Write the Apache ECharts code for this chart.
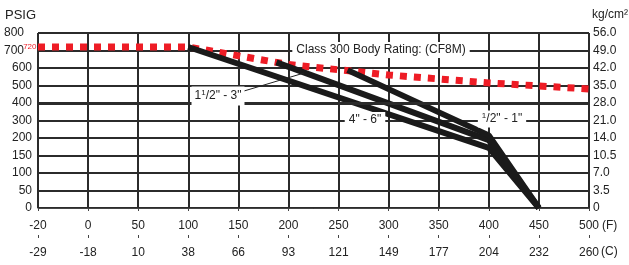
<!DOCTYPE html>
<html><head><meta charset="utf-8">
<script src="https://cdn.jsdelivr.net/npm/echarts@6/dist/echarts.min.js"></script>
<style>html,body{margin:0;padding:0;background:#fff}#c{width:629px;height:265px}</style>
</head><body><div id="c"></div>
<script>
// Axis tick labels (axes are non-uniform: each tick is one equal step)
const fTicks = [-20, 0, 50, 100, 150, 200, 250, 300, 350, 400, 450, 500];
const fLabels = ['-20','0','50','100','150','200','250','300','350','400','450','500'];
const cLabels = ['-29','-18','10','38','66','93','121','149','177','204','232','260'];
const psiTicks = [0, 50, 100, 150, 200, 300, 400, 500, 600, 700, 800];
const psiLabels = ['0','50','100','150','200','300','400','500','600','700','800'];
const kgLabels = ['0','3.5','7.0','10.5','14.0','21.0','28.0','35.0','42.0','49.0','56.0'];

// Series (temperature °F, pressure PSIG)
const bodyF   = [-20, 100, 200, 300, 400, 500];
const bodyPsi = [720, 720, 620, 560, 515, 480];
const halfF   = [259, 400, 450];
const halfPsi = [588, 215, 0];
const midF    = [188, 400, 450];
const midPsi  = [632, 194, 0];
const bigF    = [100, 400, 450];
const bigPsi  = [720, 172, 0];

function toIdx(v, ticks){
  for (let i = 0; i < ticks.length - 1; i++){
    if (v <= ticks[i+1]) return i + (v - ticks[i]) / (ticks[i+1] - ticks[i]);
  }
  return ticks.length - 1;
}
function pts(fs, ps){ return fs.map((f, i) => [toIdx(f, fTicks), toIdx(ps[i], psiTicks)]); }

const FONT = '"Liberation Sans",Arial,sans-serif';
const FS = 12;
const GRID = '#2b2b2b';
const TXT = '#222';
const chart = echarts.init(document.getElementById('c'), null, {renderer:'canvas'});

const bodyData = pts(bodyF, bodyPsi);

const blackLine = (data) => ({
  type: 'line', data, showSymbol: false, symbol: 'none', z: 4,
  lineStyle: {color: '#1a1a1a', width: 6, join: 'bevel', cap: 'butt'}
});

chart.setOption({
  animation: false,
  grid: {left: 38, right: 40, top: 33, bottom: 57},
  xAxis: [
    {type: 'value', min: 0, max: 11, interval: 1, position: 'bottom',
     axisLine: {show: false}, axisTick: {show: false},
     splitLine: {show: true, lineStyle: {color: GRID, width: 2}},
     axisLabel: {formatter: v => fLabels[v], margin: 12, fontSize: FS, color: TXT, fontFamily: FONT}},
    {type: 'value', min: 0, max: 11, interval: 1, position: 'bottom', offset: 30,
     axisLine: {show: true, lineStyle: {color: '#444', width: 1}},
     axisTick: {show: true, length: 3, lineStyle: {color: '#444'}},
     splitLine: {show: false},
     axisLabel: {formatter: v => cLabels[v], margin: 9, fontSize: FS, color: TXT, fontFamily: FONT}},
    {type: 'value', min: 0, max: 11, interval: 1, position: 'bottom', offset: 30,
     axisLine: {show: false}, axisTick: {show: true, inside: true, length: 3, lineStyle: {color: '#444'}},
     splitLine: {show: false}, axisLabel: {show: false}}
  ],
  yAxis: [
    {type: 'value', min: 0, max: 10, interval: 1, position: 'left',
     axisLine: {show: false}, axisTick: {show: false},
     splitLine: {show: true, lineStyle: {color: GRID, width: 2}},
     axisLabel: {margin: 6, fontSize: FS, color: TXT, fontFamily: FONT,
       formatter: v => v >= 9 ? '{p|' + psiLabels[v] + '}' : psiLabels[v],
       rich: {p: {fontSize: FS, fontFamily: FONT, color: TXT, padding: [0, 8, 0, 0]}}}},
    {type: 'value', min: 0, max: 10, interval: 1, position: 'right',
     axisLine: {show: false}, axisTick: {show: false}, splitLine: {show: false},
     axisLabel: {margin: 4, fontSize: FS, color: TXT, fontFamily: FONT, formatter: v => kgLabels[v]}}
  ],
  series: [
    {type: 'line', data: bodyData, showSymbol: false, symbol: 'none', z: 3,
     lineStyle: {color: '#ee1c25', width: 7, type: [7, 7], cap: 'butt'}},
    {type: 'scatter', data: [bodyData[0]], symbol: 'circle', symbolSize: 1,
     itemStyle: {color: 'rgba(0,0,0,0)'}, z: 5, silent: true,
     label: {show: true, position: 'left', distance: 1, formatter: String(bodyPsi[0]),
       color: '#ee1c25', fontSize: 8, fontFamily: FONT, opacity: 1}},
    blackLine(pts(bigF, bigPsi)),
    blackLine(pts(midF, midPsi)),
    blackLine(pts(halfF, halfPsi)),
    {type: 'line', data: [], symbol: 'none', silent: true, z: 1,
     markLine: {silent: true, symbol: 'none', label: {show: false}, animation: false,
       lineStyle: {color: GRID, width: 3, type: 'solid'}, data: [{yAxis: toIdx(400, psiTicks)}]}}
  ],
  graphic: [
    {type: 'text', z: 100, left: 5, top: 9, style: {text: 'PSIG', fontSize: 13, fontFamily: FONT, fill: TXT}},
    {type: 'text', z: 100, left: 592, top: 9, style: {text: 'kg/cm²', fontSize: 12, fontFamily: FONT, fill: TXT}},
    {type: 'text', z: 100, left: 602, top: 220, style: {text: '(F)', fontSize: FS, fontFamily: FONT, fill: TXT}},
    {type: 'text', z: 100, left: 601, top: 246, style: {text: '(C)', fontSize: FS, fontFamily: FONT, fill: TXT}},
    {type: 'text', z: 100, x: 381, y: 50, style: {text: 'Class 300 Body Rating: (CF8M)', align: 'center', verticalAlign: 'middle',
      fontSize: FS, fontFamily: FONT, fill: TXT, backgroundColor: '#fff', padding: [2, 4]}},
    {type: 'line', z: 99, shape: {x1: 244, y1: 91, x2: 304, y2: 73}, style: {stroke: TXT, lineWidth: 1}},
    {type: 'text', z: 100, x: 218, y: 96, style: {text: '{n|1}{s|1}{n|/2" - 3"}', align: 'center', verticalAlign: 'middle',
      backgroundColor: '#fff', padding: [2, 3],
      rich: {n: {fontSize: FS, fontFamily: FONT, fill: TXT, lineHeight: 15},
             s: {fontSize: 8, fontFamily: FONT, fill: TXT, lineHeight: 15, verticalAlign: 'top', padding: [0, 0, 6, 0]}}}},
    {type: 'text', z: 100, x: 365, y: 120, style: {text: '4" - 6"', align: 'center', verticalAlign: 'middle',
      fontSize: FS, fontFamily: FONT, fill: TXT, backgroundColor: '#fff', padding: [2, 4]}},
    {type: 'text', z: 100, x: 502, y: 119, style: {text: '{s|1}{n|/2" - 1"}', align: 'center', verticalAlign: 'middle',
      backgroundColor: '#fff', padding: [1, 4],
      rich: {n: {fontSize: FS, fontFamily: FONT, fill: TXT, lineHeight: 15},
             s: {fontSize: 8, fontFamily: FONT, fill: TXT, lineHeight: 15, verticalAlign: 'top', padding: [0, 0, 6, 0]}}}}
  ]
});
</script></body></html>
